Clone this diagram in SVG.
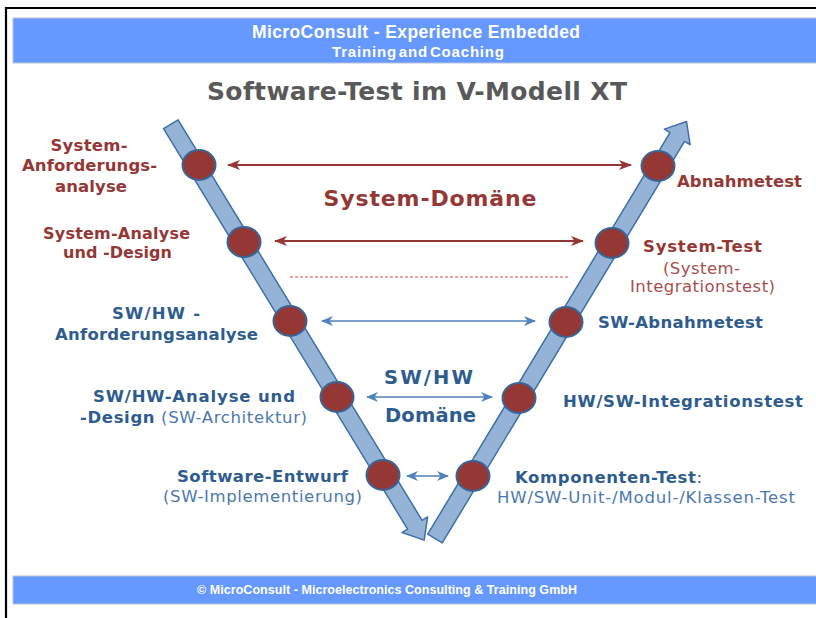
<svg xmlns="http://www.w3.org/2000/svg" width="816" height="618" viewBox="0 0 816 618">
  <defs>
    <style>
      .band { fill: #6699FF; stroke: #B8C4D8; stroke-width: 1; }
      .bandtext { font-family: "Liberation Sans", Arial, sans-serif; font-weight: bold; fill: #FFFFFF; text-anchor: middle; }
      .title { font-family: "DejaVu Sans", Verdana, sans-serif; font-weight: bold; font-size: 25px; fill: #595959; text-anchor: middle; }
      .arm { fill: #95B3D7; stroke: #3F6FA8; stroke-width: 1.5; stroke-linejoin: round; }
      .dot { fill: #953735; stroke: #3A6496; stroke-width: 2; }
      .lbl { font-family: "DejaVu Sans", Verdana, sans-serif; font-size: 16.5px; }
      .tight { font-size: 16px; }
      .cap22 { font-size: 22px; }
      .cap19 { font-size: 19.5px; }
      .b { font-weight: bold; }
      .red { fill: #953735; }
      .redlt { fill: #A5504E; }
      .blue { fill: #2F5C8F; }
      .bluelt { fill: #4C78AE; }
      .mid { text-anchor: middle; }
      .redline { stroke: #953735; stroke-width: 2; fill: none; }
      .blueline { stroke: #4F81BD; stroke-width: 1.6; fill: none; }
    </style>
    <marker id="headRed" viewBox="0 0 13 10" refX="12" refY="5" markerWidth="13" markerHeight="10" markerUnits="userSpaceOnUse" orient="auto-start-reverse">
      <path d="M0,0 L13,5 L0,10 L3.5,5 z" fill="#953735"/>
    </marker>
    <marker id="headBlue" viewBox="0 0 12 10" refX="11" refY="5" markerWidth="12" markerHeight="10" markerUnits="userSpaceOnUse" orient="auto-start-reverse">
      <path d="M0,0 L12,5 L0,10 L3.5,5 z" fill="#4F81BD"/>
    </marker>
    <polygon id="armShape" points="0,-8.5 469,-8.5 469,-15 487,0 469,15 469,8.5 0,8.5"/>
  </defs>

  <rect width="816" height="618" fill="#FFFFFF"/>
  <!-- frame edges -->
  <path d="M6,618 V8 H816" fill="none" stroke="#000000" stroke-width="2.2"/>

  <!-- header band -->
  <g id="header">
    <rect class="band" x="13" y="18" width="810" height="45"/>
    <text class="bandtext" x="416" y="38" font-size="17.5" textLength="328">MicroConsult - Experience Embedded</text>
    <text class="bandtext" x="418" y="57" font-size="15" textLength="172" word-spacing="-3">Training and Coaching</text>
  </g>

  <text class="title" x="417" y="100" textLength="420">Software-Test im V-Modell XT</text>

  <!-- V-model arms -->
  <g id="arms">
    <use href="#armShape" class="arm" transform="translate(170.8,124.2) rotate(58.65)"/>
    <use href="#armShape" class="arm" transform="translate(435,538.5) rotate(-58.9)"/>
  </g>

  <!-- connectors -->
  <g id="connectors">
    <line class="redline" x1="228" y1="165" x2="631" y2="165" marker-start="url(#headRed)" marker-end="url(#headRed)"/>
    <line class="redline" x1="275" y1="241" x2="583" y2="241" marker-start="url(#headRed)" marker-end="url(#headRed)"/>
    <line x1="290" y1="277" x2="568" y2="277" stroke="#C0504D" stroke-width="1" stroke-dasharray="3,2"/>
    <line class="blueline" x1="322" y1="321" x2="535" y2="321" marker-start="url(#headBlue)" marker-end="url(#headBlue)"/>
    <line class="blueline" x1="367" y1="397" x2="492" y2="397" marker-start="url(#headBlue)" marker-end="url(#headBlue)"/>
    <line class="blueline" x1="407" y1="476" x2="448" y2="476" marker-start="url(#headBlue)" marker-end="url(#headBlue)"/>
  </g>

  <!-- domain captions -->
  <text class="lbl cap22 b red mid" x="430" y="206" textLength="213">System-Domäne</text>
  <text class="lbl cap19 b blue mid" x="428.5" y="384" textLength="89">SW/HW</text>
  <text class="lbl cap19 b blue mid" x="430.5" y="422" textLength="91">Domäne</text>

  <!-- left arm: specification levels -->
  <g id="sys-anforderung">
    <ellipse class="dot" cx="199" cy="165" rx="16.5" ry="15"/>
    <text class="lbl b red mid" x="89" y="151" textLength="77">System-</text>
    <text class="lbl b red mid" x="89.5" y="171" textLength="135">Anforderungs-</text>
    <text class="lbl b red mid" x="91" y="192" textLength="72">analyse</text>
  </g>
  <g id="sys-analyse">
    <ellipse class="dot" cx="244" cy="242" rx="16.5" ry="15"/>
    <text class="lbl tight b red mid" x="116.5" y="239" textLength="147">System-Analyse</text>
    <text class="lbl tight b red mid" x="117.5" y="258" textLength="109">und -Design</text>
  </g>
  <g id="swhw-anforderung">
    <ellipse class="dot" cx="290" cy="321" rx="16.5" ry="15"/>
    <text class="lbl b blue mid" x="156" y="319" textLength="88">SW/HW -</text>
    <text class="lbl b blue mid" x="156.5" y="340" textLength="203">Anforderungsanalyse</text>
  </g>
  <g id="swhw-analyse">
    <ellipse class="dot" cx="337" cy="397" rx="16.5" ry="15"/>
    <text class="lbl b blue mid" x="194" y="402" textLength="202">SW/HW-Analyse und</text>
    <text class="lbl mid" x="193.5" y="423" textLength="227"><tspan class="b blue">-Design</tspan><tspan class="bluelt"> (SW-Architektur)</tspan></text>
  </g>
  <g id="sw-entwurf">
    <ellipse class="dot" cx="383" cy="475" rx="16.5" ry="15"/>
    <text class="lbl b blue mid" x="262.5" y="482" textLength="171">Software-Entwurf</text>
    <text class="lbl bluelt mid" x="262.5" y="502" textLength="199">(SW-Implementierung)</text>
  </g>

  <!-- right arm: test levels -->
  <g id="abnahmetest">
    <ellipse class="dot" cx="658" cy="166" rx="16.5" ry="15"/>
    <text class="lbl b red" x="677" y="187" textLength="125">Abnahmetest</text>
  </g>
  <g id="system-test">
    <ellipse class="dot" cx="612" cy="243" rx="16.5" ry="15"/>
    <text class="lbl b red mid" x="702.5" y="252" textLength="119">System-Test</text>
    <text class="lbl redlt mid" x="701.5" y="274" textLength="77">(System-</text>
    <text class="lbl redlt mid" x="702.5" y="292" textLength="145">Integrationstest)</text>
  </g>
  <g id="sw-abnahmetest">
    <ellipse class="dot" cx="566" cy="322" rx="16.5" ry="15"/>
    <text class="lbl b blue" x="598" y="328" textLength="165">SW-Abnahmetest</text>
  </g>
  <g id="hwsw-integration">
    <ellipse class="dot" cx="519" cy="398" rx="16.5" ry="15"/>
    <text class="lbl b blue" x="563" y="407" textLength="240">HW/SW-Integrationstest</text>
  </g>
  <g id="komponenten-test">
    <ellipse class="dot" cx="473" cy="476" rx="16.5" ry="15"/>
    <text class="lbl" x="515" y="483" textLength="187"><tspan class="b blue">Komponenten-Test</tspan><tspan class="blue">:</tspan></text>
    <text class="lbl bluelt" x="497" y="503" textLength="298">HW/SW-Unit-/Modul-/Klassen-Test</text>
  </g>

  <!-- footer band -->
  <g id="footer">
    <rect class="band" x="13" y="576" width="810" height="28"/>
    <text class="bandtext" x="387" y="594" font-size="12.5" textLength="380">© MicroConsult - Microelectronics Consulting &amp; Training GmbH</text>
  </g>
</svg>
